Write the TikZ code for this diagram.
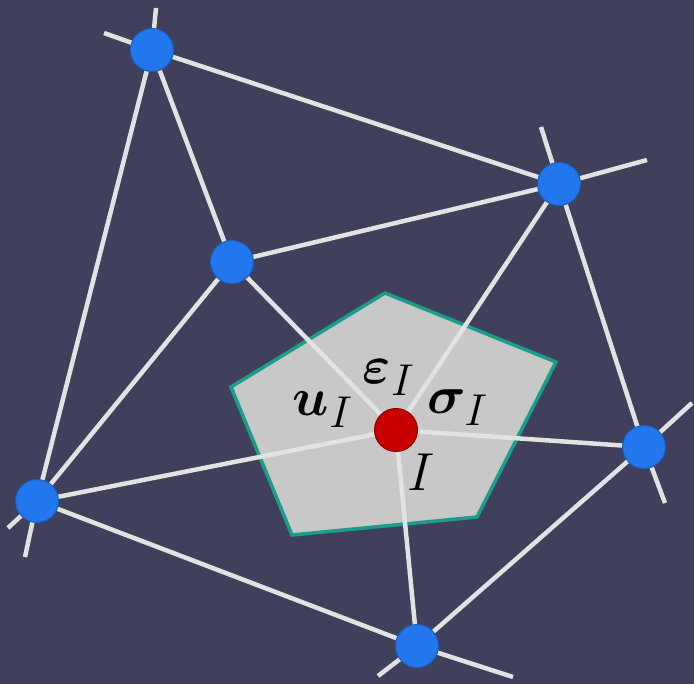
\documentclass[tikz,border=0pt]{standalone}
\usepackage{bm}
\begin{document}
\begin{tikzpicture}[x=1pt,y=-1pt,
  edge/.style={draw=linegrey,line width=4.5pt},
  bnode/.style={circle,fill=nodeblue,draw=nodeedge,line width=1pt,minimum size=43pt,inner sep=0pt},
  rnode/.style={circle,fill=nodered,draw=rededge,line width=1pt,minimum size=43pt,inner sep=0pt},
  lbl/.style={font=\Huge,scale=2.15,inner sep=0pt}]
\definecolor{bg}{HTML}{40405C}
\definecolor{linegrey}{HTML}{E2E2E2}
\definecolor{nodeblue}{HTML}{2277EE}
\definecolor{nodeedge}{HTML}{1560C0}
\definecolor{nodered}{HTML}{C80000}
\definecolor{rededge}{HTML}{8A0000}
\definecolor{pentfill}{HTML}{C8C8C8}
\definecolor{teal}{HTML}{1A9E8A}
\fill[bg] (0,0) rectangle (694,684);
\useasboundingbox (0,0) rectangle (694,684);
% pentagon
\draw[fill=pentfill,draw=teal,line width=3.5pt,line join=miter]
  (385,293) -- (556,362) -- (477,517) -- (292,535) -- (231,387) -- cycle;
% coordinates
\coordinate (A) at (152,50);
\coordinate (B) at (559,184);
\coordinate (C) at (232,262);
\coordinate (D) at (37,501);
\coordinate (E) at (644,447);
\coordinate (F) at (417,646);
\coordinate (I) at (396,430);
\coordinate (a1) at (156,8);
\coordinate (a2) at (104,33);
\coordinate (b1) at (541,127);
\coordinate (b2) at (647,160);
\coordinate (d1) at (8,528);
\coordinate (d2) at (25,557);
\coordinate (e1) at (692,403);
\coordinate (e2) at (665,503);
\coordinate (f1) at (378,676);
\coordinate (f2) at (513,677);
% edges
\path[edge] (A)--(B) (A)--(C) (A)--(D) (C)--(B) (C)--(D) (C)--(I) (B)--(I)
  (B)--(E) (D)--(I) (D)--(F) (I)--(E) (I)--(F) (F)--(E)
  (A)--(a1) (A)--(a2) (B)--(b1) (B)--(b2) (D)--(d1) (D)--(d2)
  (E)--(e1) (E)--(e2) (F)--(f1) (F)--(f2);
% nodes
\node[bnode] (nA) at (A) {};
\node[bnode] (nB) at (B) {};
\node[bnode] (nC) at (C) {};
\node[bnode] (nD) at (D) {};
\node[bnode] (nE) at (E) {};
\node[bnode] (nF) at (F) {};
\node[rnode] (nI) at (I) {};
% labels
\node[lbl] (lu) at (323,410) {$\bm{u}_I$};
\node[lbl] (le) at (389,378) {$\bm{\varepsilon}_I$};
\node[lbl] (ls) at (458,408) {$\bm{\sigma}_I$};
\node[lbl] (lI) at (421,472) {$I$};
\end{tikzpicture}
\end{document}
